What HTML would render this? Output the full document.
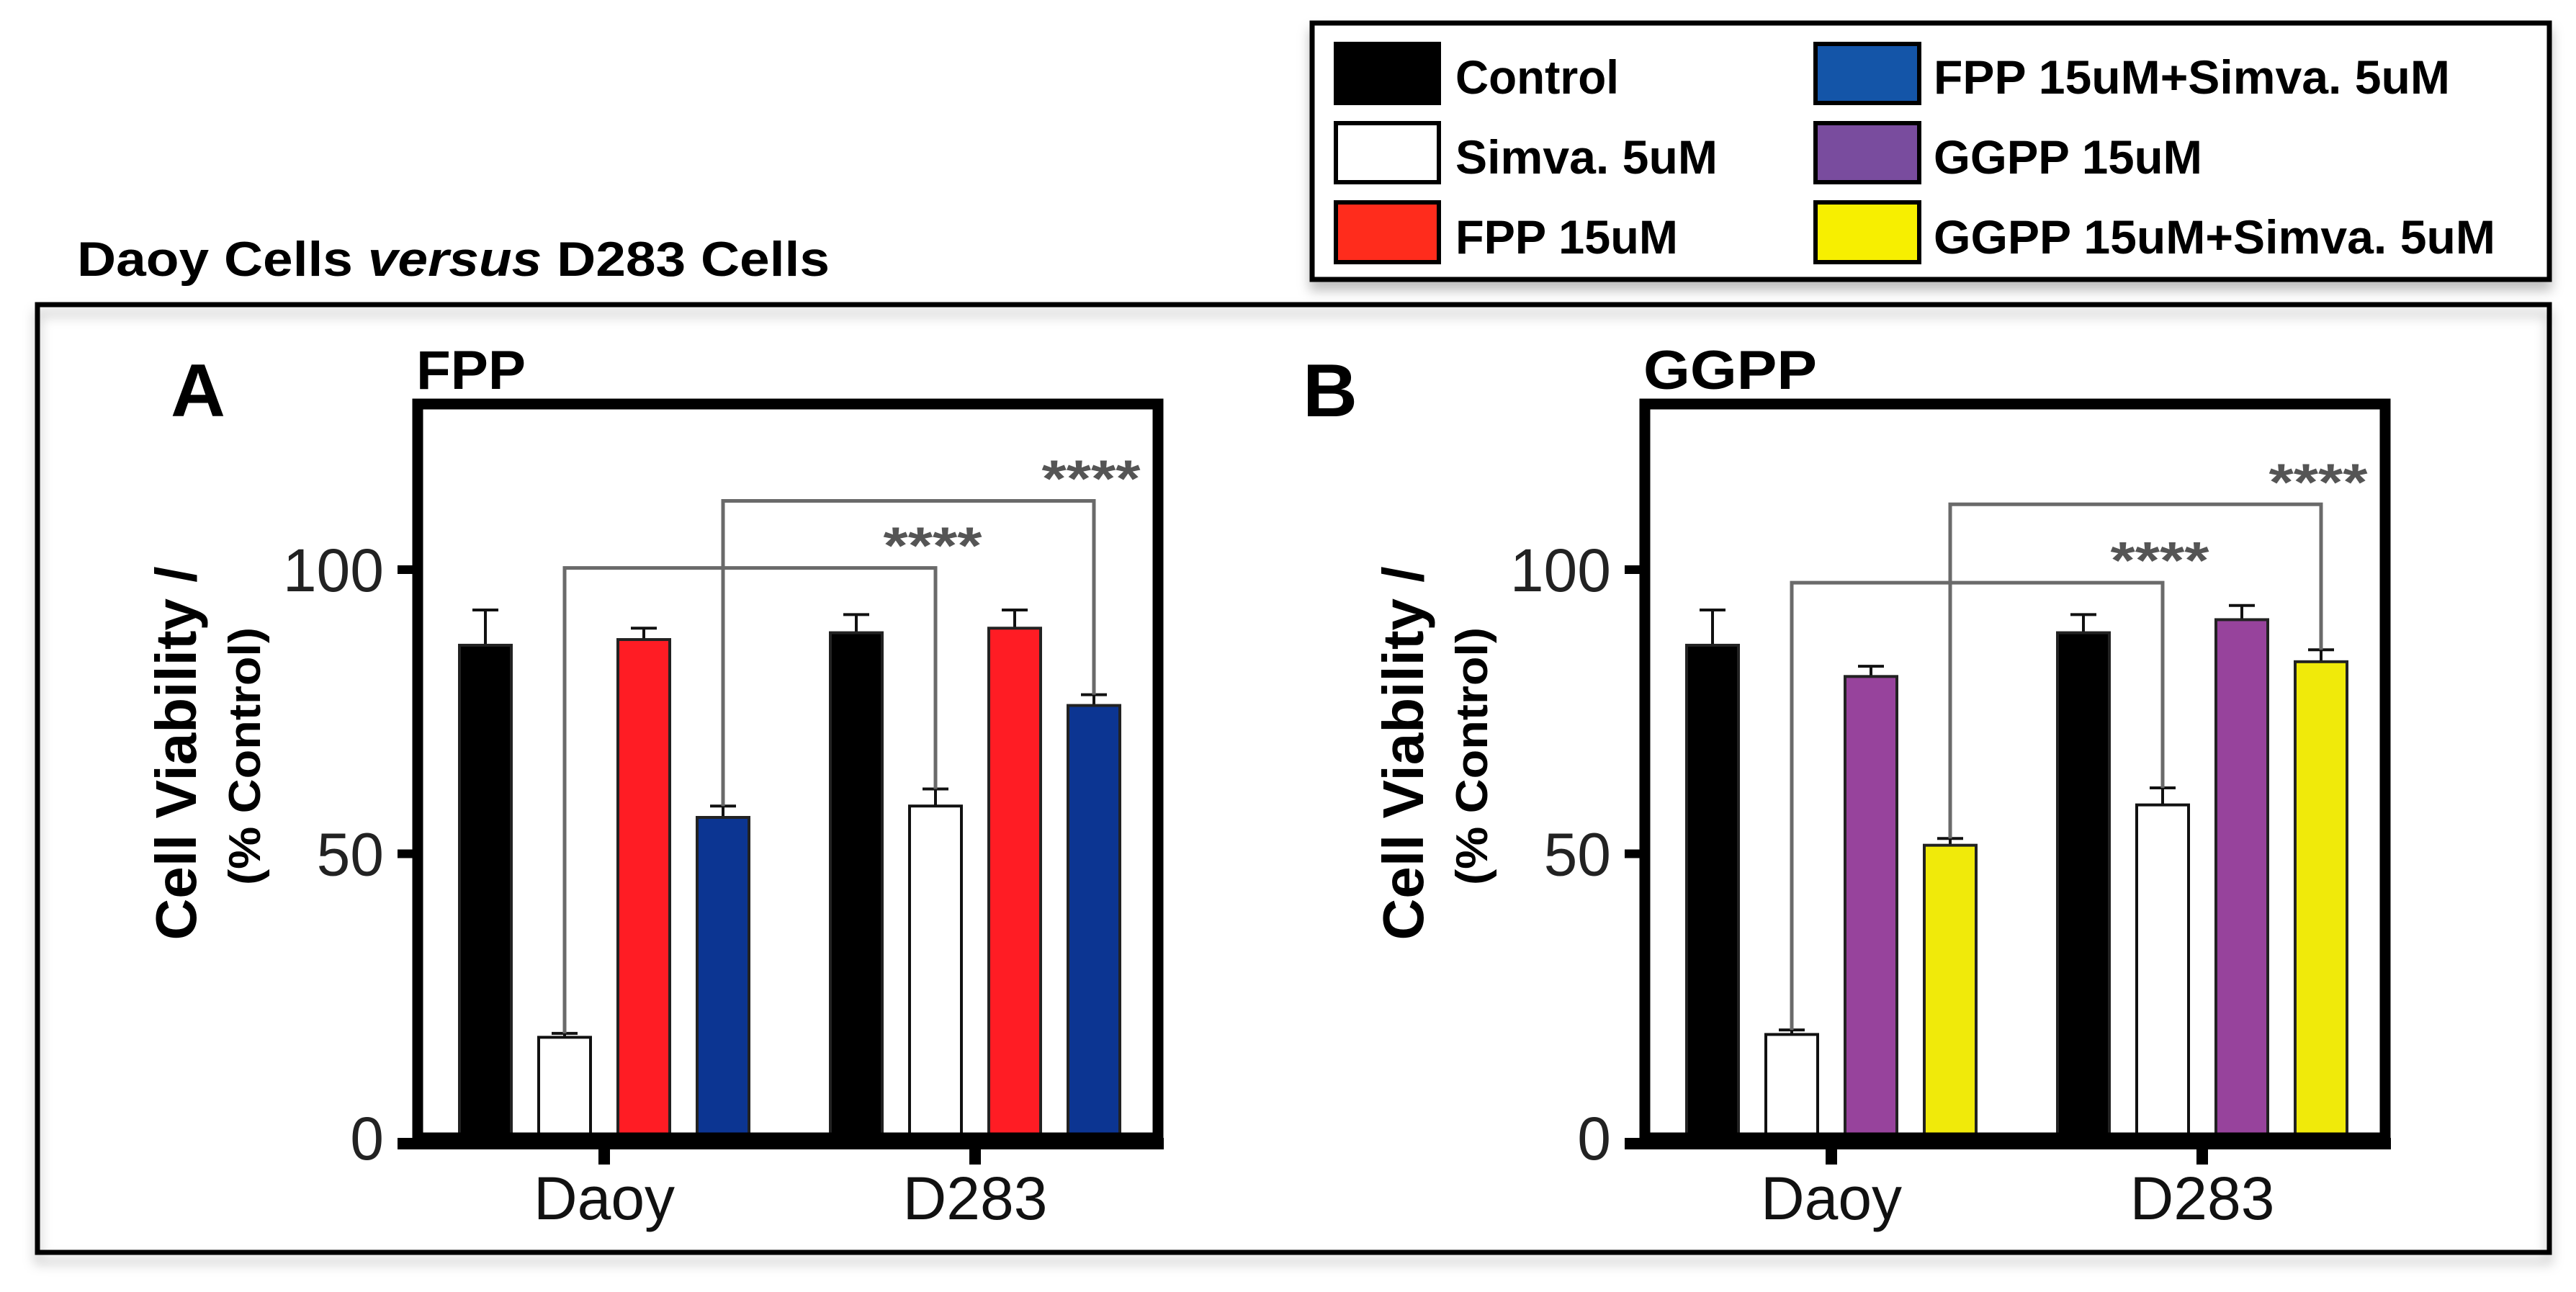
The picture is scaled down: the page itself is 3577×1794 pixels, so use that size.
<!DOCTYPE html>
<html><head><meta charset="utf-8"><style>
html,body{margin:0;padding:0;background:#fff;}
svg{display:block;}
text{font-family:"Liberation Sans",sans-serif;}
</style></head><body>
<svg id="fig" width="3577" height="1794" viewBox="0 0 3577 1794" xmlns="http://www.w3.org/2000/svg">
<defs>
<filter id="sh" x="-5%" y="-5%" width="110%" height="130%"><feDropShadow dx="0" dy="12" stdDeviation="8" flood-color="#000" flood-opacity="0.25"/></filter>
</defs>
<rect width="3577" height="1794" fill="#fff"/>
<g>
<rect x="1822" y="32" width="1718" height="356" fill="#fff" stroke="#000" stroke-width="7" filter="url(#sh)"/>
<g><rect x="1855" y="61" width="143" height="82" fill="#000" stroke="#000" stroke-width="6"/><text x="2021" y="130" font-size="66" font-weight="bold" textLength="227" lengthAdjust="spacingAndGlyphs">Control</text></g>
<g><rect x="1855" y="171" width="143" height="82" fill="#fff" stroke="#000" stroke-width="6"/><text x="2021" y="241" font-size="66" font-weight="bold" textLength="364" lengthAdjust="spacingAndGlyphs">Simva. 5uM</text></g>
<g><rect x="1855" y="281" width="143" height="83" fill="#ff2c1c" stroke="#000" stroke-width="6"/><text x="2021" y="352" font-size="66" font-weight="bold" textLength="309" lengthAdjust="spacingAndGlyphs">FPP 15uM</text></g>
<g><rect x="2521" y="61" width="144" height="82" fill="#1455a8" stroke="#000" stroke-width="6"/><text x="2685" y="130" font-size="66" font-weight="bold" textLength="717" lengthAdjust="spacingAndGlyphs">FPP 15uM+Simva. 5uM</text></g>
<g><rect x="2521" y="171" width="144" height="82" fill="#794c9e" stroke="#000" stroke-width="6"/><text x="2685" y="241" font-size="66" font-weight="bold" textLength="373" lengthAdjust="spacingAndGlyphs">GGPP 15uM</text></g>
<g><rect x="2521" y="281" width="144" height="83" fill="#f7ef00" stroke="#000" stroke-width="6"/><text x="2685" y="352" font-size="66" font-weight="bold" textLength="780" lengthAdjust="spacingAndGlyphs">GGPP 15uM+Simva. 5uM</text></g>
</g>
<text x="107" y="383" font-size="68" font-weight="bold" textLength="1045" lengthAdjust="spacingAndGlyphs">Daoy Cells <tspan font-style="italic">versus</tspan> D283 Cells</text>
<rect x="52" y="423" width="3488" height="1316" fill="none" stroke="#000" stroke-width="7" filter="url(#sh)"/>
<g id="panels"></g>
</svg>
<script>
const categories = ["Daoy", "D283"];
const yTicks = [0, 50, 100];
const seriesA = ["Control", "Simva. 5uM", "FPP 15uM", "FPP 15uM+Simva. 5uM"];
const seriesB = ["Control", "Simva. 5uM", "GGPP 15uM", "GGPP 15uM+Simva. 5uM"];
const valuesA_Daoy = [86.7, 17.7, 87.7, 56.4];
const errorsA_Daoy = [92.9, 18.4, 89.7, 58.4];
const valuesA_D283 = [88.9, 58.4, 89.7, 76.1];
const errorsA_D283 = [92.1, 61.4, 92.9, 78.0];
const valuesB_Daoy = [86.7, 18.2, 81.2, 51.5];
const errorsB_Daoy = [92.9, 19.0, 83.0, 52.7];
const valuesB_D283 = [88.9, 58.6, 91.2, 83.8];
const errorsB_D283 = [92.1, 61.6, 93.7, 85.9];
const bracketsA = [[1, 100.3], [3, 112.1]];
const bracketsB = [[1, 97.7], [3, 111.5]];
const starLabel = "****";

const NS = "http://www.w3.org/2000/svg";
const root = document.getElementById('panels');
function mk(tag, attrs, parent, txt) {
  const e = document.createElementNS(NS, tag);
  for (const k in attrs) e.setAttribute(k, attrs[k]);
  if (txt !== undefined) e.textContent = txt;
  parent.appendChild(e);
  return e;
}
const y0 = 1580, pxPerUnit = 7.89;
function yS(v) { return y0 - v * pxPerUnit; }

function panel(off, letter, letterX, title, titleW, names, colors, vals, errs, brackets, key) {
  const g = mk('g', {}, root);
  
  
  const groupCenters = [839 + off, 1354 + off];
  function xS(gi, i) { return groupCenters[gi] + (i - 1.5) * 110; }
  const L = mk('text', {x: letterX, y: 578, 'font-size': 104, 'font-weight': 'bold', textLength: 76, lengthAdjust: 'spacingAndGlyphs'}, g, letter);
  
  
  const T = mk('text', {x: 578 + off, y: 540, 'font-size': 76, 'font-weight': 'bold', textLength: titleW, lengthAdjust: 'spacingAndGlyphs'}, g, title);
  
  
  const yl = mk('text', {x: 0, y: 0, 'font-size': 80, 'font-weight': 'bold', 'text-anchor': 'middle', transform: `translate(${272 + off},1046) rotate(-90)`, textLength: 519, lengthAdjust: 'spacingAndGlyphs'}, g, 'Cell Viability /');
  
  
  const yl2 = mk('text', {x: 0, y: 0, 'font-size': 62, 'font-weight': 'bold', 'text-anchor': 'middle', transform: `translate(${361 + off},1050) rotate(-90)`, textLength: 358, lengthAdjust: 'spacingAndGlyphs'}, g, '(% Control)');
  
  
  for (let gi = 0; gi < 2; gi++) {
    for (let i = 0; i < 4; i++) {
      const cx = xS(gi, i), v = vals[gi][i], e = errs[gi][i];
      const eb = mk('path', {d: `M${cx} ${yS(v)}V${yS(e)}M${cx - 18} ${yS(e)}H${cx + 18}`, stroke: '#111', 'stroke-width': 4, fill: 'none'}, g);
      
      
      const r = mk('rect', {x: cx - 36, y: yS(v), width: 72, height: yS(0) - yS(v), fill: colors[i], stroke: i === 1 ? '#111' : '#222', 'stroke-width': 4}, g);
      
      
    }
  }
  brackets.forEach(([i, by]) => {
    const xa = xS(0, i), xb = xS(1, i);
    const p = mk('path', {d: `M${xa} ${yS(errs[0][i])}V${yS(by)}H${xb}V${yS(errs[1][i])}`, stroke: '#6a6a6a', 'stroke-width': 5, fill: 'none'}, g);
    
    
    const s = mk('text', {x: xb - 4, y: yS(by) - 6, 'font-size': 72, 'font-weight': 'bold', fill: '#555', 'text-anchor': 'middle', textLength: 137, lengthAdjust: 'spacingAndGlyphs'}, g, starLabel);
    
    
  });
  const fr = mk('rect', {x: 580 + off, y: 561, width: 1028, height: 1019, fill: 'none', stroke: '#000', 'stroke-width': 15}, g);
  
  
  const ax = mk('line', {x1: 552 + off, x2: 1616 + off, y1: 1588, y2: 1588, stroke: '#000', 'stroke-width': 16}, g);
  
  
  yTicks.forEach(t => {
    const tk = mk('line', {x1: 552 + off, x2: 580 + off, y1: yS(t) + (t === 0 ? 8 : 0), y2: yS(t) + (t === 0 ? 8 : 0), stroke: '#000', 'stroke-width': 12}, g);
    
    
    const tl = mk('text', {x: 533 + off, y: yS(t) + 30, 'font-size': 84, fill: '#222', 'text-anchor': 'end'}, g, String(t));
    
    
  });
  categories.forEach((c, gi) => {
    const tk = mk('line', {x1: groupCenters[gi], x2: groupCenters[gi], y1: 1588, y2: 1617, stroke: '#000', 'stroke-width': 16}, g);
    
    
    const tl = mk('text', {x: groupCenters[gi], y: 1693, 'font-size': 84, fill: '#111', 'text-anchor': 'middle'}, g, c);
    
    
  });
}
panel(0, 'A', 237, 'FPP', 152, seriesA, ['#000', '#fff', '#ff1c24', '#0c3592'],
  [valuesA_Daoy, valuesA_D283], [errorsA_Daoy, errorsA_D283], bracketsA, 'fpp');
panel(1704, 'B', 1809, 'GGPP', 241, seriesB, ['#000', '#fff', '#97439c', '#f0ea0a'],
  [valuesB_Daoy, valuesB_D283], [errorsB_Daoy, errorsB_D283], bracketsB, 'ggpp');
</script>
</body></html>
